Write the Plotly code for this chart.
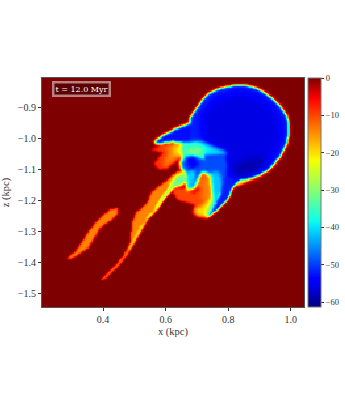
import numpy as np
import plotly.graph_objects as go

X_RANGE = [0.205, 1.042]
Z_RANGE = [-1.545, -0.803]
Z_MIN, Z_MAX = -61.3, 0.0
CB_TICKS = [0, -10, -20, -30, -40, -50, -60]
X_TICKS = [0.4, 0.6, 0.8, 1.0]
Z_TICKS = [-0.9, -1.0, -1.1, -1.2, -1.3, -1.4, -1.5]
NX, NZ = 200, 176

# Outlines of the regions, (x kpc, z kpc)
BLOB = [(.285,-1.387),(.311,-1.368),(.333,-1.335),(.358,-1.296),(.390,-1.257),(.422,-1.231),(.445,-1.225),(.448,-1.244),(.422,-1.267),(.390,-1.290),(.368,-1.329),(.352,-1.355),(.320,-1.377),(.295,-1.390)]
STRAND = [(.397,-1.455),(.432,-1.420),(.464,-1.384),(.480,-1.355),(.490,-1.329),(.492,-1.273),(.508,-1.238),(.540,-1.212),(.556,-1.173),(.576,-1.157),(.598,-1.140),(.636,-1.108),(.656,-1.105),(.672,-1.134),(.633,-1.157),(.596,-1.195),(.577,-1.228),(.545,-1.260),(.522,-1.299),(.498,-1.341),(.482,-1.371),(.445,-1.418),(.400,-1.458)]
STRAND_THIN = [(.397,-1.455),(.432,-1.420),(.464,-1.384),(.472,-1.366),(.478,-1.372),(.445,-1.416),(.400,-1.458)]
STRAND_YELLOW = [(.482,-1.356),(.510,-1.300),(.556,-1.240),(.586,-1.192),(.618,-1.160),(.630,-1.157),(.596,-1.193),(.577,-1.226),(.545,-1.258),(.515,-1.310),(.486,-1.361)]
STRAND_GREEN = [(.492,-1.332),(.524,-1.280),(.562,-1.235),(.594,-1.182),(.616,-1.153),(.633,-1.147),(.600,-1.189),(.574,-1.222),(.544,-1.252),(.512,-1.300)]
STRAND_TOP = [(.614,-1.150),(.636,-1.120),(.656,-1.111),(.672,-1.134),(.650,-1.153),(.630,-1.157)]
FINGER = [(.557,-1.036),(.582,-1.023),(.630,-1.014),(.668,-1.014),(.678,-1.030),(.652,-1.053),(.630,-1.075),(.608,-1.095),(.582,-1.101),(.563,-1.079),(.573,-1.069),(.592,-1.046),(.573,-1.040)]
FINGER_ORANGE = [(.590,-1.028),(.630,-1.019),(.668,-1.018),(.672,-1.032),(.648,-1.050),(.625,-1.072),(.604,-1.088),(.592,-1.088),(.600,-1.062),(.612,-1.042)]
FINGER_YELLOW = [(.630,-1.022),(.668,-1.020),(.672,-1.034),(.650,-1.048),(.632,-1.058),(.625,-1.045)]
LOWER = [(.624,-1.176),(.630,-1.160),(.688,-1.160),(.704,-1.134),(.732,-1.114),(.758,-1.127),(.780,-1.166),(.767,-1.215),(.732,-1.257),(.710,-1.254),(.688,-1.241),(.694,-1.215),(.672,-1.208),(.640,-1.199)]
LOWER_HOLE = [(.672,-1.170),(.704,-1.153),(.713,-1.163),(.691,-1.179)]
LOWER_ORANGE = [(.704,-1.153),(.732,-1.118),(.751,-1.134),(.751,-1.182),(.732,-1.205),(.712,-1.189),(.723,-1.160)]
LOWER_YELLOW = [(.735,-1.199),(.761,-1.166),(.767,-1.199),(.732,-1.254),(.697,-1.248),(.691,-1.228),(.719,-1.218)]
LOWER_GREEN = [(.751,-1.127),(.767,-1.144),(.774,-1.166),(.751,-1.215),(.732,-1.254),(.726,-1.244),(.748,-1.199)]
LOWER_CYAN = [(.758,-1.127),(.780,-1.127),(.780,-1.166),(.761,-1.215),(.735,-1.254),(.755,-1.199)]
UNDER_RIM = [(.815,-1.150),(.847,-1.127),(.886,-1.118),(.886,-1.127),(.847,-1.147),(.822,-1.157)]
WING = [(.560,-1.014),(.592,-.988),(.636,-.965),(.678,-.949),(.700,-.960),(.700,-1.010),(.678,-1.020),(.624,-1.010),(.582,-1.017)]
BUBBLE = [(.678,-.932),(.700,-.900),(.720,-.872),(.742,-.851),(.770,-.838),(.806,-.829),(.838,-.826),(.870,-.829),(.905,-.842),(.934,-.864),(.957,-.884),(.975,-.906),(.988,-.925),(.994,-.949),(.995,-.980),(.988,-1.014),(.972,-1.050),(.950,-1.079),(.928,-1.102),(.902,-1.118),(.870,-1.128),(.838,-1.134),(.812,-1.153),(.780,-1.150),(.726,-1.069),(.710,-1.020),(.678,-1.004)]
BUBBLE_DEEP = [(.715,-.925),(.760,-.870),(.838,-.845),(.915,-.870),(.965,-.930),(.975,-.990),(.945,-1.060),(.880,-1.105),(.800,-1.120),(.740,-1.050),(.720,-1.000)]
TAIL = [(.780,-1.118),(.838,-1.127),(.815,-1.160),(.799,-1.199),(.767,-1.231),(.732,-1.257),(.758,-1.215),(.774,-1.179),(.774,-1.140)]
CORE_CYAN = [(.655,-1.014),(.710,-1.007),(.758,-1.027),(.799,-1.043),(.790,-1.056),(.726,-1.053),(.694,-1.075),(.655,-1.075)]
CORE_GREEN = [(.665,-1.027),(.710,-1.023),(.729,-1.036),(.710,-1.059),(.678,-1.069),(.662,-1.053)]
CURL = [(.646,-1.075),(.678,-1.056),(.726,-1.062),(.790,-1.049),(.799,-1.085),(.796,-1.118),(.780,-1.134),(.748,-1.121),(.719,-1.108),(.704,-1.134),(.691,-1.160),(.672,-1.166),(.668,-1.118),(.649,-1.095)]
CURL_CYAN = [(.668,-1.108),(.690,-1.095),(.697,-1.121),(.685,-1.157),(.668,-1.160)]
CURL_DARK = [(.662,-1.062),(.694,-1.059),(.710,-1.085),(.678,-1.101)]
RIGHT_CYAN = [(.742,-1.111),(.770,-1.105),(.783,-1.140),(.770,-1.185),(.752,-1.175)]
INNER_DARK = [(.840,-1.075),(.900,-1.060),(.930,-1.075),(.880,-1.115),(.830,-1.130),(.810,-1.105)]

# (outline, level in colour units, softness)
LEVELS = [
    (BLOB, -14, .7), (STRAND, -14, .7), (STRAND_THIN, -11, .5),
    (STRAND_YELLOW, -20, .7), (STRAND_GREEN, -29, .8), (STRAND_TOP, -33, 1.5),
    (FINGER, -9, .8), (FINGER_ORANGE, -14, 1.6), (FINGER_YELLOW, -21, 2.0),
    (LOWER, -10, .8), (LOWER_HOLE, -5, 1.), (LOWER_ORANGE, -14, 2.),
    (LOWER_YELLOW, -20, 1.6), (LOWER_GREEN, -30, 1.2), (LOWER_CYAN, -41, 1.),
    (UNDER_RIM, -15, .7), (WING, -53, 1.), (BUBBLE, -52, .9), (BUBBLE_DEEP, -56, 3.), (TAIL, -52, .8),
    (CORE_CYAN, -40, 1.6), (CORE_GREEN, -31, 2.), (CURL, -49, 1.3),
    (CURL_CYAN, -41, 1.2), (CURL_DARK, -54, 1.5), (RIGHT_CYAN, -42, 1.4),
    (INNER_DARK, -59, 3.),
]


def inside(px, pz, poly):
    poly = np.array(poly)
    x0, z0 = poly[:, 0], poly[:, 1]
    x1, z1 = np.roll(x0, -1), np.roll(z0, -1)
    out = np.zeros(px.shape, dtype=bool)
    for a, b, c, d in zip(x0, z0, x1, z1):
        cross = (b > pz) != (d > pz)
        with np.errstate(divide="ignore", invalid="ignore"):
            xat = a + (pz - b) * (c - a) / (d - b)
        out ^= cross & (px < xat)
    return out


def soften(mask, s):
    r = int(np.ceil(3 * s))
    k = np.exp(-0.5 * (np.arange(-r, r + 1) / s) ** 2)
    k /= k.sum()
    m = np.apply_along_axis(lambda v: np.convolve(v, k, mode="same"), 0, mask * 1.0)
    return np.apply_along_axis(lambda v: np.convolve(v, k, mode="same"), 1, m)


xs = np.linspace(X_RANGE[0], X_RANGE[1], NX)
zs = np.linspace(Z_RANGE[0], Z_RANGE[1], NZ)
gx, gz = np.meshgrid(xs, zs)
field = np.zeros(gx.shape)
for poly, level, soft in LEVELS:
    m = soften(inside(gx, gz, poly), soft)
    field = field * (1 - m) + level * m
field = np.round(field, 1)

JET = [[0, "#00007f"], [.11, "#0000ff"], [.125, "#0000ff"], [.34, "#00dcff"], [.375, "#0affed"],
       [.5, "#7dff7a"], [.64, "#f6ff00"], [.66, "#ffea00"], [.89, "#ff1300"], [.91, "#ff0000"], [1, "#7f0000"]]

FONT = "Liberation Serif"
TXT = "#333333"
fig = go.Figure(go.Heatmap(
    x=xs, y=zs, z=field, colorscale=JET, zmin=Z_MIN, zmax=Z_MAX,
    colorbar=dict(thickness=13, x=1.015, xanchor="left", xpad=0, ypad=0, len=1, y=0.5, yanchor="middle",
                  tickvals=CB_TICKS, ticktext=[str(t).replace("-", "\u2212") for t in CB_TICKS],
                  ticks="outside", ticklen=3, tickcolor="#333", tickfont=dict(family=FONT, size=8.5, color=TXT),
                  outlinecolor="#777", outlinewidth=1),
))
fig.update_layout(
    width=345, height=414, autosize=False, margin=dict(l=42, r=41, t=78, b=107, autoexpand=False),
    paper_bgcolor="white", plot_bgcolor="white", font=dict(family=FONT, color=TXT),
    xaxis=dict(range=X_RANGE, tickvals=X_TICKS, ticktext=[f"{t:.1f}" for t in X_TICKS], ticks="outside", ticklen=3,
               tickcolor="#333", showgrid=False, zeroline=False, mirror=True, showline=True, linecolor="#555", linewidth=1,
               tickfont=dict(size=10, family=FONT, color=TXT),
               title=dict(text="x (kpc)", standoff=3, font=dict(size=10.5, family=FONT, color=TXT))),
    yaxis=dict(range=Z_RANGE, tickvals=Z_TICKS, ticktext=[f"\u2212{abs(t):.1f}" for t in Z_TICKS], ticks="outside", ticklen=3,
               tickcolor="#333", showgrid=False, zeroline=False, mirror=True, showline=True, linecolor="#555", linewidth=1,
               tickfont=dict(size=10, family=FONT, color=TXT),
               title=dict(text="z (kpc)", standoff=7, font=dict(size=10.5, family=FONT, color=TXT))),
    annotations=[dict(text="t = 12.0 Myr", xref="paper", yref="paper", x=0.04, y=0.985, xanchor="left", yanchor="top",
                      showarrow=False, font=dict(family="DejaVu Serif", size=8, color="white"),
                      bgcolor="rgba(70,0,0,0.6)", bordercolor="rgba(255,255,255,0.5)", borderwidth=2.5, borderpad=1)],
)
fig.write_html("out.html", config={"displayModeBar": False}, post_script="document.body.style.margin='0';")
